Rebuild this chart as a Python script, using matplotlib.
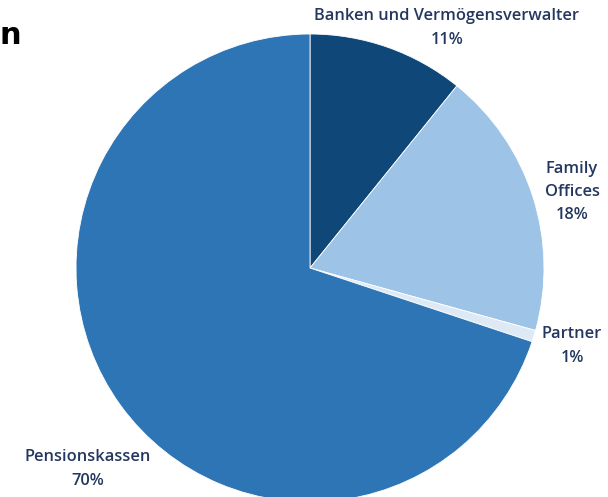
import matplotlib
matplotlib.use("Agg")
import matplotlib.pyplot as plt

# Data (clockwise from 12 o'clock)
categories = ["Banken und Vermögensverwalter", "Family\nOffices", "Partner", "Pensionskassen"]
shares = [10.8, 18.5, 0.8, 69.9]
pct_labels = ["11%", "18%", "1%", "70%"]
colors = ["#0F4878", "#9DC3E6", "#DDEAF6", "#2E75B6"]

W, H = 608, 497
fig = plt.figure(figsize=(W / 100, H / 100), dpi=100)
ax = fig.add_axes([0, 0, 1, 1])
ax.set_xlim(0, W)
ax.set_ylim(0, H)
ax.set_aspect("equal")
ax.axis("off")

cx, cy, r = 310, H - 268, 234
ax.pie(shares, colors=colors, startangle=90, counterclock=False,
       center=(cx, cy), radius=r, frame=True,
       wedgeprops=dict(edgecolor="white", linewidth=0.6))
ax.set_xlim(0, W)
ax.set_ylim(0, H)
ax.axis("off")

tc = "#24375F"
fs = 11.8
label_pos = [(447, 28), (572, 192), (572, 346), (88, 469)]
for name, pct, (x, y) in zip(categories, pct_labels, label_pos):
    ax.text(x, H - y, f"{name}\n{pct}", ha="center", va="center",
            fontsize=fs, color=tc, family="Open Sans", fontweight="semibold",
            linespacing=1.6)

ax.text(0, H - 36, "n", ha="left", va="center", fontsize=22,
        fontweight="bold", color="black", family="DejaVu Sans")

fig.savefig("out.png", dpi=100)
